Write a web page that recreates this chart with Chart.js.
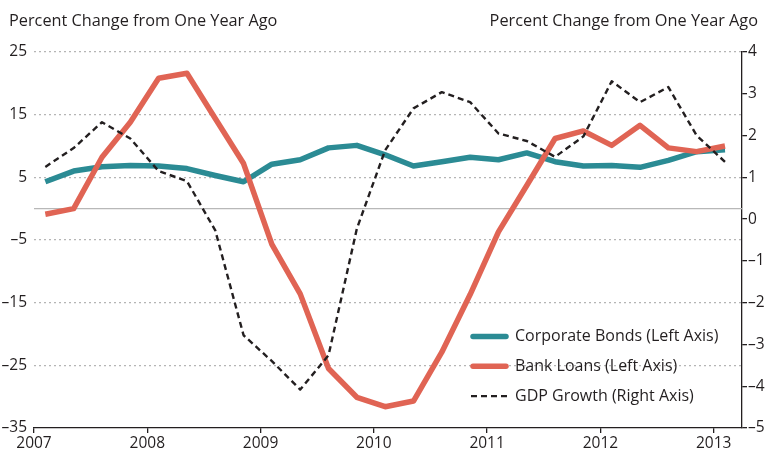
<!DOCTYPE html>
<html lang="en">

<head>
    <meta charset="UTF-8">
    <title>Corporate Bonds, Bank Loans and GDP Growth</title>
    <style>
        html, body {
            margin: 0;
            padding: 0;
            background: #fff;
        }

        #wrap {
            width: 768px;
            height: 456px;
        }
    </style>
    <script src="https://cdn.jsdelivr.net/npm/chart.js"></script>
</head>

<body>
    <div id="wrap"><canvas id="chart" width="768" height="456"></canvas></div>

    <script>
        // quarterly observations, 2007Q1 - 2013Q1
        const quarters = [
            '2007Q1', '2007Q2', '2007Q3', '2007Q4',
            '2008Q1', '2008Q2', '2008Q3', '2008Q4',
            '2009Q1', '2009Q2', '2009Q3', '2009Q4',
            '2010Q1', '2010Q2', '2010Q3', '2010Q4',
            '2011Q1', '2011Q2', '2011Q3', '2011Q4',
            '2012Q1', '2012Q2', '2012Q3', '2012Q4',
            '2013Q1'
        ];

        // left axis, percent
        const corporateBonds = [
            4.3, 6.0, 6.7, 6.9, 6.8, 6.4, 5.3, 4.3,
            7.1, 7.8, 9.7, 10.1, 8.6, 6.8, 7.5, 8.2,
            7.8, 8.9, 7.5, 6.8, 6.9, 6.6, 7.7, 9.1,
            9.4
        ];
        const bankLoans = [
            -0.9, 0.0, 8.2, 13.8, 20.8, 21.6, 14.4, 7.2,
            -5.7, -13.6, -25.5, -30.1, -31.6, -30.7, -22.9, -13.7,
            -3.7, 3.7, 11.2, 12.4, 10.1, 13.3, 9.7, 9.1,
            10.0
        ];
        // right axis, percent
        const gdpGrowth = [
            1.25, 1.7, 2.32, 1.93, 1.15, 0.91, -0.27, -2.78,
            -3.4, -4.08, -3.26, -0.23, 1.65, 2.65, 3.04, 2.8,
            2.05, 1.87, 1.49, 1.98, 3.3, 2.8, 3.16, 2.0,
            1.37
        ];

        const leftTicks = [25, 15, 5, -5, -15, -25, -35];
        const rightTicks = [4, 3, 2, 1, 0, -1, -2, -3, -4, -5];
        const yearTicks = [2007, 2008, 2009, 2010, 2011, 2012, 2013];

        const axisTitle = 'Percent Change from One Year Ago';
        const FONT = "'Open Sans', 'Noto Sans', sans-serif";
        const TEAL = '#2b8b94';
        const RED = '#e06454';
        const INK = '#231f20';

        const dash = v => (v < 0 ? '\u2013' + Math.abs(v) : String(v));

        // quarter label -> decimal year (observations sit a little into the quarter)
        const toYear = q => parseInt(q.slice(0, 4)) + (parseInt(q.slice(5)) - 1) / 4 + 0.1;
        const pts = arr => quarters.map((q, i) => ({ x: toYear(q), y: arr[i] }));

        // titles, zero line and the legend box
        const extras = {
            id: 'extras',
            beforeDatasetsDraw(chart) {
                const { ctx, chartArea } = chart;
                const y0 = chart.scales.yL.getPixelForValue(0);
                ctx.save();
                ctx.strokeStyle = '#b8b8b8';
                ctx.lineWidth = 1.3;
                ctx.beginPath();
                ctx.moveTo(chartArea.left, y0);
                ctx.lineTo(chartArea.right, y0);
                ctx.stroke();
                ctx.restore();
            },
            afterDraw(chart) {
                const { ctx } = chart;
                ctx.save();
                ctx.fillStyle = INK;
                ctx.font = '16.3px ' + FONT;
                ctx.textBaseline = 'alphabetic';
                ctx.textAlign = 'left';
                ctx.fillText(axisTitle, 9, 26);
                ctx.textAlign = 'right';
                ctx.fillText(axisTitle, 758, 26);

                // legend
                const rows = [chart.data.datasets[2], chart.data.datasets[1], chart.data.datasets[0]];
                ctx.font = '16px ' + FONT;
                ctx.textAlign = 'left';
                ctx.textBaseline = 'middle';
                rows.forEach((ds, i) => {
                    const y = 336.5 + i * 29.8;
                    ctx.strokeStyle = ds.borderColor;
                    ctx.lineWidth = ds.borderWidth;
                    ctx.lineCap = ds.borderDash ? 'butt' : 'round';
                    ctx.setLineDash(ds.borderDash || []);
                    ctx.beginPath();
                    ctx.moveTo(ds.borderDash ? 471 : 473, y);
                    ctx.lineTo(ds.borderDash ? 509 : 506, y);
                    ctx.stroke();
                    ctx.setLineDash([]);
                    ctx.fillStyle = INK;
                    ctx.fillText(ds.label, 515, y);
                });
                ctx.restore();
            }
        };

        const ctx = document.getElementById('chart').getContext('2d');
        const chart = new Chart(ctx, {
            type: 'line',
            data: {
                datasets: [
                    {
                        label: 'GDP Growth (Right Axis)',
                        data: pts(gdpGrowth),
                        yAxisID: 'yR',
                        borderColor: INK,
                        borderWidth: 2.4,
                        borderDash: [6, 4],
                        order: 0
                    },
                    {
                        label: 'Bank Loans (Left Axis)',
                        data: pts(bankLoans),
                        yAxisID: 'yL',
                        borderColor: RED,
                        borderWidth: 5.5,
                        order: 1
                    },
                    {
                        label: 'Corporate Bonds (Left Axis)',
                        data: pts(corporateBonds),
                        yAxisID: 'yL',
                        borderColor: TEAL,
                        borderWidth: 5.5,
                        order: 2
                    }
                ]
            },
            options: {
                responsive: false,
                animation: false,
                events: [],
                layout: { padding: { top: 52, right: 0, left: 0, bottom: 0 } },
                elements: {
                    point: { radius: 0 },
                    line: { tension: 0, fill: false, borderJoinStyle: 'round', borderCapStyle: 'butt' }
                },
                plugins: {
                    legend: { display: false },
                    tooltip: { enabled: false }
                },
                scales: {
                    x: {
                        type: 'linear',
                        min: 2007,
                        max: 2013.25,
                        afterBuildTicks: s => { s.ticks = yearTicks.map(v => ({ value: v })); },
                        afterFit: s => { s.height = 28; },
                        border: { display: true, color: INK, width: 1.3 },
                        grid: { drawOnChartArea: false, drawTicks: true, tickLength: 5, color: INK, lineWidth: 1.3 },
                        ticks: {
                            color: INK,
                            font: { family: FONT, size: 15.5 },
                            padding: 1,
                            maxRotation: 0,
                            callback: v => String(v)
                        }
                    },
                    yL: {
                        position: 'left',
                        min: -35,
                        max: 25,
                        afterBuildTicks: s => { s.ticks = leftTicks.map(v => ({ value: v })); },
                        afterFit: s => { s.width = 34; },
                        border: { display: false },
                        grid: {
                            drawTicks: false,
                            color: c => (c.tick && c.tick.value === -35 ? 'rgba(0,0,0,0)' : '#b5b5b5'),
                            lineWidth: 1.2
                        },
                        ticks: {
                            color: INK,
                            font: { family: FONT, size: 15.5 },
                            padding: 7,
                            callback: v => dash(v)
                        }
                    },
                    yR: {
                        position: 'right',
                        min: -5,
                        max: 4,
                        afterBuildTicks: s => { s.ticks = rightTicks.map(v => ({ value: v })); },
                        afterFit: s => { s.width = 26; },
                        border: { display: true, color: INK, width: 1.3 },
                        grid: { drawOnChartArea: false, drawTicks: true, tickLength: 5, color: INK, lineWidth: 1.3 },
                        ticks: {
                            color: INK,
                            font: { family: FONT, size: 15.5 },
                            padding: 1,
                            callback: v => dash(v)
                        }
                    }
                }
            },
            plugins: [extras]
        });

        // dotted grid
        chart.options.scales.yL.grid.borderDash = [2, 3];
        chart.options.scales.yL.border.dash = [2, 3];
        chart.update();
    </script>
</body>

</html>
